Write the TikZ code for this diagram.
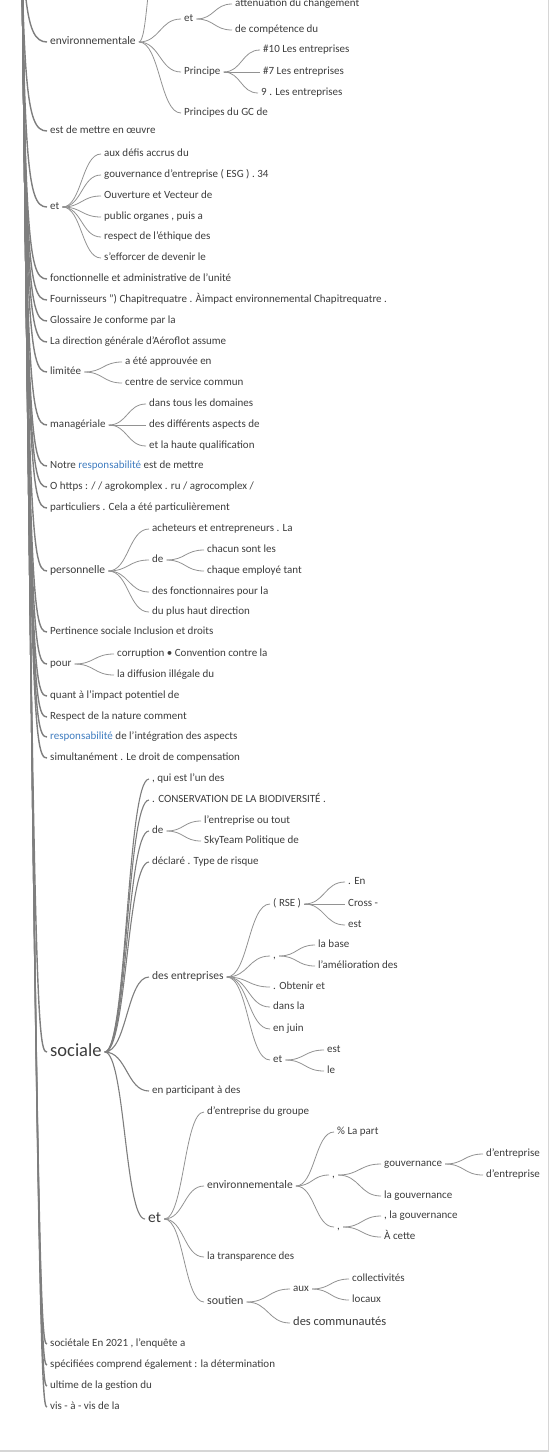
\documentclass[tikz,border=0pt]{standalone}
\usepackage{fontspec}
\setmainfont{Carlito}
\usepackage{tikz}
\usetikzlibrary{calc}
\definecolor{inktext}{HTML}{3C3C3C}
\definecolor{inkline}{HTML}{929292}
\definecolor{trunkline}{HTML}{7E7E7E}
\definecolor{resplink}{HTML}{3F7CBF}
\definecolor{framegray}{HTML}{D6D6D6}

\begin{document}
\begin{tikzpicture}[x=1pt,y=-1pt,
    leaf/.style={anchor=west,xshift=-3pt,inner xsep=3pt,inner ysep=1pt,text=inktext,
      font=\fontsize{11}{12}\selectfont,text height=7.5pt,text depth=2pt},
    mid/.style={leaf,font=\fontsize{11.5}{13}\selectfont},
    big/.style={leaf,font=\fontsize{15.5}{17}\selectfont,text height=10pt,text depth=3pt},
    huge/.style={leaf,font=\fontsize{18.5}{20}\selectfont,text height=12pt,text depth=3pt},
    branch/.style={draw=inkline,line width=0.8pt,
      to path={let \p1=(\tikztostart),\p2=(\tikztotarget) in
        .. controls ({0.5*\x1+0.5*\x2},\y1) and ({0.5*\x1+0.5*\x2},\y2) .. (\tikztotarget)}},
    thickbranch/.style={branch,line width=1.1pt,draw=trunkline},
    trunk/.style={draw=trunkline,line width=1.4pt,
      to path={let \p2=(\tikztotarget) in
        .. controls ({20pt-0.013*\y2},{\y2+45pt}) and ({23pt-0.013*\y2},\y2) .. (\tikztotarget)}}
]
\useasboundingbox (0,0) rectangle (553,1454);
\clip (0,0) rectangle (553,1454);
\draw[framegray,line width=1.2pt] (548.5,0) -- (548.5,1451) -- (0,1451);

\coordinate (root) at (20,-250);

% first level, along the left edge
\node[mid] (env1) at (50,42) {environnementale};
\node[leaf] (estde) at (50,131) {est de mettre en œuvre};
\node[leaf] (et1) at (50,207) {et};
\node[leaf] (fonct) at (50,279) {fonctionnelle et administrative de l'unité};
\node[leaf] (fourn) at (50,300) {Fournisseurs ") Chapitrequatre . Àimpact environnemental Chapitrequatre .};
\node[leaf] (gloss) at (50,321) {Glossaire Je conforme par la};
\node[leaf] (direc) at (50,342) {La direction générale d'Aéroflot assume};
\node[leaf] (limit) at (50,372) {limitée};
\node[leaf] (manag) at (50,425) {managériale};
\node[leaf] (notre) at (50,466) {Notre \textcolor{resplink}{responsabilité} est de mettre};
\node[leaf] (https) at (50,487) {O https : / / agrokomplex . ru / agrocomplex /};
\node[leaf] (partic) at (50,508) {particuliers . Cela a été particulièrement};
\node[mid] (perso) at (50,571) {personnelle};
\node[leaf] (pertin) at (50,632) {Pertinence sociale Inclusion et droits};
\node[leaf] (pour) at (50,664) {pour};
\node[leaf] (quant) at (50,696) {quant à l'impact potentiel de};
\node[leaf] (respe) at (50,717) {Respect de la nature comment};
\node[leaf] (respo) at (50,737) {\textcolor{resplink}{responsabilité} de l'intégration des aspects};
\node[leaf] (simul) at (50,758) {simultanément . Le droit de compensation};
\node[huge] (sociale) at (50,1052) {sociale};
\node[leaf] (societ) at (50,1344) {sociétale En 2021 , l'enquête a};
\node[leaf] (specif) at (50,1365) {spécifiées comprend également : la détermination};
\node[leaf] (ultime) at (50,1386) {ultime de la gestion du};
\node[leaf] (vis) at (50,1407) {vis - à - vis de la};

\draw[trunk] (root) to (env1.west);   \draw[trunk] (root) to (estde.west);
\draw[trunk] (root) to (et1.west);    \draw[trunk] (root) to (fonct.west);
\draw[trunk] (root) to (fourn.west);  \draw[trunk] (root) to (gloss.west);
\draw[trunk] (root) to (direc.west);  \draw[trunk] (root) to (limit.west);
\draw[trunk] (root) to (manag.west);  \draw[trunk] (root) to (notre.west);
\draw[trunk] (root) to (https.west);  \draw[trunk] (root) to (partic.west);
\draw[trunk] (root) to (perso.west);  \draw[trunk] (root) to (pertin.west);
\draw[trunk] (root) to (pour.west);   \draw[trunk] (root) to (quant.west);
\draw[trunk] (root) to (respe.west);  \draw[trunk] (root) to (respo.west);
\draw[trunk] (root) to (simul.west);  \draw[trunk] (root) to (sociale.west);
\draw[trunk] (root) to (societ.west); \draw[trunk] (root) to (specif.west);
\draw[trunk] (root) to (ultime.west); \draw[trunk] (root) to (vis.west);

% environnementale (top)
\coordinate (envup) at (156,-40);
\node[leaf] (et2) at (184,19) {et};
\node[leaf] (princ) at (184,72) {Principe};
\node[leaf] (princgc) at (184,113) {Principes du GC de};
\node[leaf] (atten) at (235,4) {atténuation du changement};
\node[leaf] (compet) at (235,30) {de compétence du};
\node[leaf] (p10) at (263,50) {\#10 Les entreprises};
\node[leaf] (p7) at (263,72) {\#7 Les entreprises};
\node[leaf] (p9) at (261,93) {9 . Les entreprises};
\draw[branch] (env1.east) to (envup);
\draw[branch] (env1.east) to (et2.west);
\draw[branch] (env1.east) to (princ.west);
\draw[branch] (env1.east) to (princgc.west);
\draw[branch] (et2.east) to (atten.west);
\draw[branch] (et2.east) to (compet.west);
\draw[branch] (princ.east) to (p10.west);
\draw[branch] (princ.east) to (p7.west);
\draw[branch] (princ.east) to (p9.west);

% et
\node[leaf] (aux1) at (104,154) {aux défis accrus du};
\node[leaf] (gouv1) at (104,175) {gouvernance d'entreprise ( ESG ) . 34};
\node[leaf] (ouvert) at (104,196) {Ouverture et Vecteur de};
\node[leaf] (public) at (104,217) {public organes , puis a};
\node[leaf] (ethiq) at (104,237) {respect de l'éthique des};
\node[leaf] (effor) at (104,258) {s'efforcer de devenir le};
\draw[branch] (et1.east) to (aux1.west);
\draw[branch] (et1.east) to (gouv1.west);
\draw[branch] (et1.east) to (ouvert.west);
\draw[branch] (et1.east) to (public.west);
\draw[branch] (et1.east) to (ethiq.west);
\draw[branch] (et1.east) to (effor.west);

% limitée, managériale
\node[leaf] (approuv) at (125,362) {a été approuvée en};
\node[leaf] (centre) at (125,383) {centre de service commun};
\draw[branch] (limit.east) to (approuv.west);
\draw[branch] (limit.east) to (centre.west);
\node[leaf] (domain) at (149,404) {dans tous les domaines};
\node[leaf] (aspect) at (149,425) {des différents aspects de};
\node[leaf] (qualif) at (149,446) {et la haute qualification};
\draw[branch] (manag.east) to (domain.west);
\draw[branch] (manag.east) to (aspect.west);
\draw[branch] (manag.east) to (qualif.west);

% personnelle
\node[leaf] (achet) at (152,529) {acheteurs et entrepreneurs . La};
\node[leaf] (de1) at (152,560) {de};
\node[leaf] (fonctio) at (152,592) {des fonctionnaires pour la};
\node[leaf] (haut) at (152,612) {du plus haut direction};
\node[leaf] (chacun) at (207,550) {chacun sont les};
\node[leaf] (chaque) at (207,571) {chaque employé tant};
\draw[branch] (perso.east) to (achet.west);
\draw[branch] (perso.east) to (de1.west);
\draw[branch] (perso.east) to (fonctio.west);
\draw[branch] (perso.east) to (haut.west);
\draw[branch] (de1.east) to (chacun.west);
\draw[branch] (de1.east) to (chaque.west);

% pour
\node[leaf] (corrup) at (117,654) {corruption • Convention contre la};
\node[leaf] (diffus) at (117,675) {la diffusion illégale du};
\draw[branch] (pour.east) to (corrup.west);
\draw[branch] (pour.east) to (diffus.west);

% sociale
\node[leaf] (quiest) at (152,779) {, qui est l'un des};
\node[leaf] (conserv) at (152,800) {. CONSERVATION DE LA BIODIVERSITÉ .};
\node[leaf] (de2) at (152,831) {de};
\node[leaf] (declar) at (152,862) {déclaré . Type de risque};
\node[mid] (desent) at (152,977) {des entreprises};
\node[leaf] (partici) at (152,1091) {en participant à des};
\node[big] (et3) at (148,1219) {et};
\draw[thickbranch] (sociale.east) to (quiest.west);
\draw[thickbranch] (sociale.east) to (conserv.west);
\draw[thickbranch] (sociale.east) to (de2.west);
\draw[thickbranch] (sociale.east) to (declar.west);
\draw[thickbranch] (sociale.east) to (desent.west);
\draw[thickbranch] (sociale.east) to (partici.west);
\draw[thickbranch] (sociale.east) to (et3.west);
\node[leaf] (lentre) at (204,821) {l'entreprise ou tout};
\node[leaf] (skyteam) at (204,841) {SkyTeam Politique de};
\draw[branch] (de2.east) to (lentre.west);
\draw[branch] (de2.east) to (skyteam.west);

% des entreprises
\node[leaf] (rse) at (273,904) {( RSE )};
\node[leaf] (virg1) at (273,956) {,};
\node[leaf] (obten) at (273,987) {. Obtenir et};
\node[leaf] (dansla) at (273,1007) {dans la};
\node[leaf] (juin) at (273,1029) {en juin};
\node[leaf] (et4) at (273,1060) {et};
\draw[branch] (desent.east) to (rse.west);
\draw[branch] (desent.east) to (virg1.west);
\draw[branch] (desent.east) to (obten.west);
\draw[branch] (desent.east) to (dansla.west);
\draw[branch] (desent.east) to (juin.west);
\draw[branch] (desent.east) to (et4.west);
\node[leaf] (en) at (348,882) {. En};
\node[leaf] (cross) at (348,904) {Cross -};
\node[leaf] (est1) at (348,925) {est};
\draw[branch] (rse.east) to (en.west);
\draw[branch] (rse.east) to (cross.west);
\draw[branch] (rse.east) to (est1.west);
\node[leaf] (base) at (318,945) {la base};
\node[leaf] (amelio) at (318,966) {l'amélioration des};
\draw[branch] (virg1.east) to (base.west);
\draw[branch] (virg1.east) to (amelio.west);
\node[leaf] (est2) at (327,1050) {est};
\node[leaf] (le) at (327,1071) {le};
\draw[branch] (et4.east) to (est2.west);
\draw[branch] (et4.east) to (le.west);

% et (sous sociale)
\node[leaf] (groupe) at (207,1112) {d'entreprise du groupe};
\node[mid] (env2) at (207,1186) {environnementale};
\node[leaf] (transp) at (207,1257) {la transparence des};
\node[leaf,font=\fontsize{12}{13}\selectfont] (soutien) at (207,1302) {soutien};
\draw[branch] (et3.east) to (groupe.west);
\draw[branch] (et3.east) to (env2.west);
\draw[branch] (et3.east) to (transp.west);
\draw[branch] (et3.east) to (soutien.west);
\node[leaf] (part) at (337,1132) {\% La part};
\node[leaf] (virg2) at (332,1175) {,};
\node[leaf] (virg3) at (337,1227) {,};
\draw[branch] (env2.east) to (part.west);
\draw[branch] (env2.east) to (virg2.west);
\draw[branch] (env2.east) to (virg3.west);
\node[leaf] (gouv2) at (384,1164) {gouvernance};
\node[leaf] (lagouv) at (384,1196) {la gouvernance};
\draw[branch] (virg2.east) to (gouv2.west);
\draw[branch] (virg2.east) to (lagouv.west);
\node[leaf] (dent1) at (486,1154) {d'entreprise};
\node[leaf] (dent2) at (486,1175) {d'entreprise};
\draw[branch] (gouv2.east) to (dent1.west);
\draw[branch] (gouv2.east) to (dent2.west);
\node[leaf] (lagouv2) at (384,1216) {, la gouvernance};
\node[leaf] (acette) at (384,1237) {À cette};
\draw[branch] (virg3.east) to (lagouv2.west);
\draw[branch] (virg3.east) to (acette.west);
\node[leaf] (aux2) at (293,1289) {aux};
\node[leaf,font=\fontsize{12.5}{14}\selectfont] (commun) at (293,1323) {des communautés};
\draw[branch] (soutien.east) to (aux2.west);
\draw[branch] (soutien.east) to (commun.west);
\node[leaf] (collect) at (352,1279) {collectivités};
\node[leaf] (locaux) at (352,1300) {locaux};
\draw[branch] (aux2.east) to (collect.west);
\draw[branch] (aux2.east) to (locaux.west);
\end{tikzpicture}
\end{document}
